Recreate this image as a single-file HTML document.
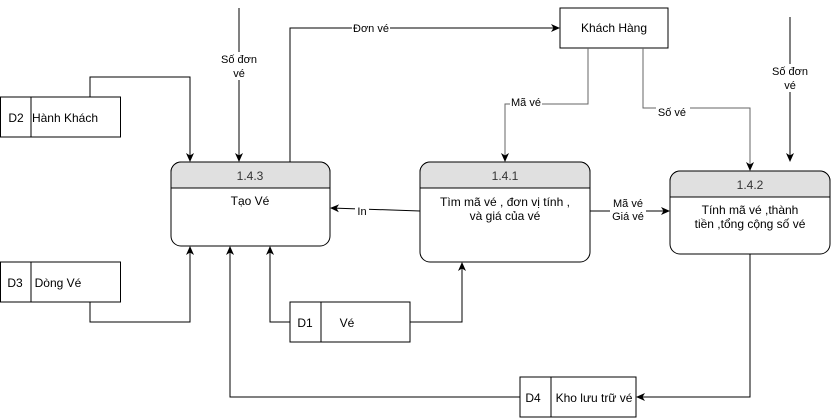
<!DOCTYPE html>
<html><head><meta charset="utf-8"><style>
body{margin:0;background:#fff;}
svg{display:block;font-family:"Liberation Sans",Arial,sans-serif;}
</style></head><body>
<svg width="831" height="418" viewBox="0 0 831 418" xmlns="http://www.w3.org/2000/svg">
<defs>
<marker id="a" markerWidth="10" markerHeight="10" refX="8" refY="4" orient="auto" markerUnits="userSpaceOnUse">
<path d="M0,0 L9,4 L0,8 L2.5,4 z" fill="#000"/></marker>
</defs>
<g fill="none" stroke="#000" stroke-width="1">
<!-- processes -->
<rect x="171" y="162" width="159" height="84" rx="10" fill="#fff"/>
<path d="M171,188 V172 a10,10 0 0 1 10,-10 H320 a10,10 0 0 1 10,10 V188 z" fill="#e0e0e0"/>
<rect x="420" y="162" width="170" height="100" rx="10" fill="#fff"/>
<path d="M420,188 V172 a10,10 0 0 1 10,-10 H580 a10,10 0 0 1 10,10 V188 z" fill="#e0e0e0"/>
<rect x="670" y="171" width="160" height="83" rx="10" fill="#fff"/>
<path d="M670,197 V181 a10,10 0 0 1 10,-10 H820 a10,10 0 0 1 10,10 V197 z" fill="#e0e0e0"/>
<!-- entities -->
<rect x="560" y="8" width="108" height="40"/>
<rect x="0.5" y="97" width="120" height="40"/><line x1="31" y1="97" x2="31" y2="137"/>
<rect x="0.5" y="262" width="120" height="40"/><line x1="31" y1="262" x2="31" y2="302"/>
<rect x="290" y="302" width="120" height="40"/><line x1="321" y1="302" x2="321" y2="342"/>
<rect x="520" y="377" width="116" height="40"/><line x1="551" y1="377" x2="551" y2="417"/>
<!-- connectors -->
<path d="M239,8 V161" marker-end="url(#a)"/>
<path d="M90,97 V77 H190 V161" marker-end="url(#a)"/>
<path d="M290,162 V28 H559" marker-end="url(#a)"/>
<path d="M588,48 V104 H505 V161" stroke="#666" marker-end="url(#a)"/>
<path d="M643,48 V108 H750 V170" stroke="#666" marker-end="url(#a)"/>
<path d="M790,17 V161" marker-end="url(#a)"/>
<path d="M420,211 L331,208" marker-end="url(#a)"/>
<path d="M590,211 H669" marker-end="url(#a)"/>
<path d="M90,302 V322 H190 V247" marker-end="url(#a)"/>
<path d="M290,322 H270 V247" marker-end="url(#a)"/>
<path d="M410,322 H462 V263" marker-end="url(#a)"/>
<path d="M750,254 V397 H637" marker-end="url(#a)"/>
<path d="M520,397 H230 V247" marker-end="url(#a)"/>
</g>
<!-- label backgrounds -->
<g fill="#fff">
<rect x="222" y="52" width="36" height="28"/>
<rect x="772" y="64" width="36" height="28"/>
<rect x="352" y="22" width="38" height="12"/>
<rect x="510" y="96" width="32" height="12"/>
<rect x="656" y="102" width="34" height="12"/>
<rect x="355" y="204" width="14" height="12"/>
<rect x="610" y="196" width="36" height="26"/>
</g>
<g font-size="12" fill="#000" text-anchor="middle">
<text x="250" y="180" fill="#333">1.4.3</text>
<text x="505" y="180" fill="#333">1.4.1</text>
<text x="750" y="189" fill="#333">1.4.2</text>
<text x="250" y="205">Tạo Vé</text>
<text x="505" y="206">Tìm mã vé , đơn vị tính ,</text>
<text x="505" y="220">và giá của vé</text>
<text x="750" y="214">Tính mã vé ,thành</text>
<text x="750" y="228">tiền ,tổng cộng số vé</text>
<text x="614" y="32">Khách Hàng</text>
<text x="16" y="122" text-anchor="middle">D2</text>
<text x="65" y="122">Hành Khách</text>
<text x="15" y="287">D3</text>
<text x="58" y="287">Dòng Vé</text>
<text x="305" y="327">D1</text>
<text x="347" y="327">Vé</text>
<text x="533" y="402">D4</text>
<text x="594" y="402">Kho lưu trữ vé</text>
</g>
<g font-size="11" fill="#000" text-anchor="middle">
<text x="239" y="63">Số đơn</text>
<text x="239" y="77">vé</text>
<text x="790" y="75">Số đơn</text>
<text x="790" y="89">vé</text>
<text x="371" y="32">Đơn vé</text>
<text x="526" y="106">Mã vé</text>
<text x="672" y="116">Số vé</text>
<text x="362" y="215">In</text>
<text x="628" y="207">Mã vé</text>
<text x="628" y="220">Giá vé</text>
</g>
</svg>
</body></html>
